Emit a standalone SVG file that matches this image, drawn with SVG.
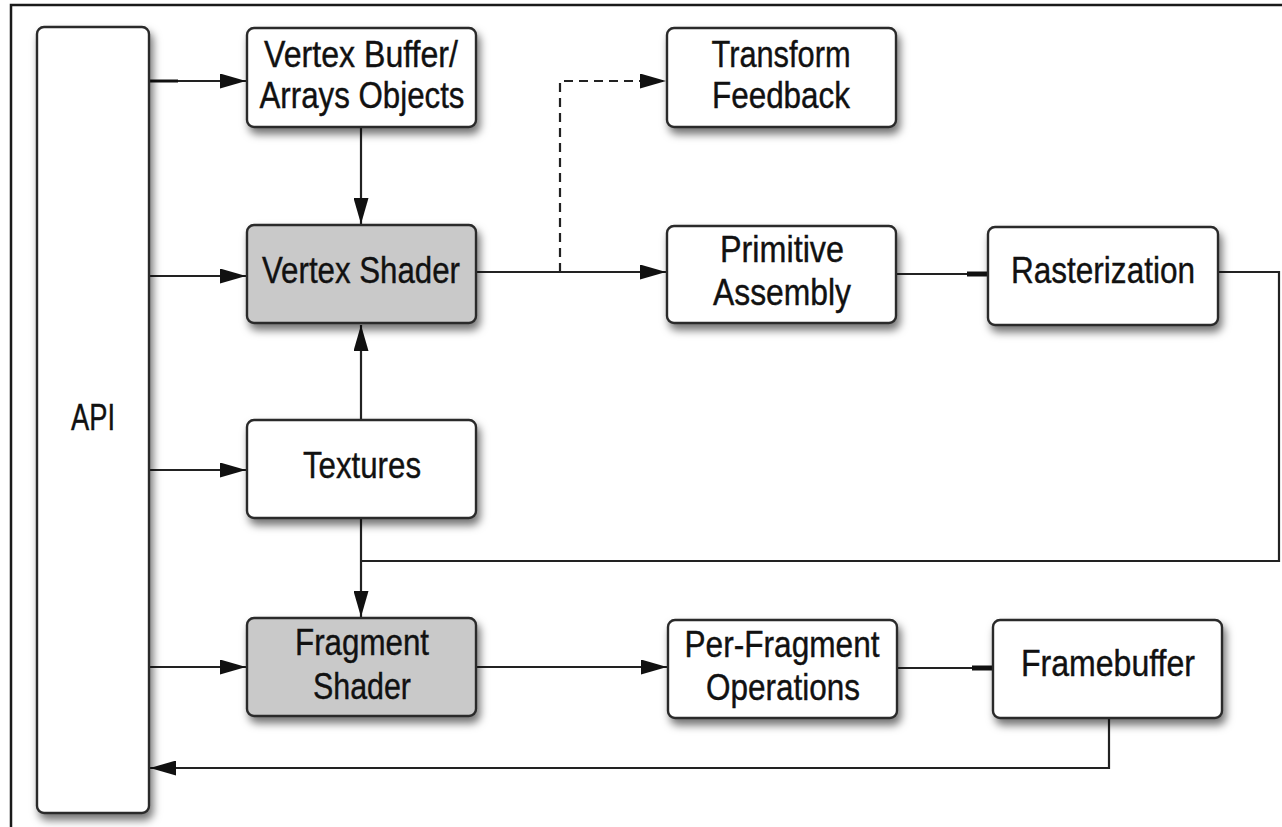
<svg xmlns="http://www.w3.org/2000/svg" width="1282" height="827" viewBox="0 0 1282 827">
  <style>
    .box { fill: #ffffff; stroke: #2a2a2a; stroke-width: 2.4; filter: url(#shadow); }
    .shader { fill: #c9c9c9; }
    .label { font-family: "Liberation Sans", Arial, sans-serif; font-size: 36px; fill: #111; text-anchor: middle; stroke: #111; stroke-width: 0.4; }
    .wire { fill: none; stroke: #222; stroke-width: 2.2; }
    .dash { stroke-dasharray: 9 6; }
    .stub { stroke: #111; stroke-width: 5; }
    .frame { fill: none; stroke: #1a1a1a; stroke-width: 2.5; }
  </style>
  <defs>
    <filter id="shadow" x="-20%" y="-20%" width="140%" height="150%">
      <feDropShadow dx="3" dy="6" stdDeviation="4" flood-color="#000" flood-opacity="0.55"/>
    </filter>
    <marker id="arrow" viewBox="0 0 26 15" refX="26" refY="7.5" markerWidth="26" markerHeight="15" markerUnits="userSpaceOnUse" orient="auto">
      <path d="M0,0 L26,7.5 L0,15 Z" fill="#111"/>
    </marker>
  </defs>

  <rect width="1282" height="827" fill="#ffffff"/>
  <!-- outer frame -->
  <path class="frame" d="M11,827 V5 H1282"/>

  <!-- connectors -->
  <g id="connectors">
    <!-- API feeds -->
    <line class="wire" x1="149" y1="81" x2="246" y2="81" marker-end="url(#arrow)"/>
    <line class="stub" x1="150" y1="81" x2="178" y2="81" style="stroke-width:3"/>
    <line class="wire" x1="149" y1="276" x2="246" y2="276" marker-end="url(#arrow)"/>
    <line class="wire" x1="149" y1="470" x2="246" y2="470" marker-end="url(#arrow)"/>
    <line class="wire" x1="149" y1="667" x2="246" y2="667" marker-end="url(#arrow)"/>
    <!-- vertex buffer to vertex shader -->
    <line class="wire" x1="361" y1="128" x2="361" y2="224" marker-end="url(#arrow)"/>
    <!-- textures up to vertex shader -->
    <line class="wire" x1="361" y1="420" x2="361" y2="325" marker-end="url(#arrow)"/>
    <!-- textures down to fragment shader -->
    <line class="wire" x1="361" y1="519" x2="361" y2="617" marker-end="url(#arrow)"/>
    <!-- vertex shader to primitive assembly -->
    <line class="wire" x1="476" y1="272" x2="666" y2="272" marker-end="url(#arrow)"/>
    <!-- transform feedback branch -->
    <path class="wire dash" d="M560,272 V81 H666" marker-end="url(#arrow)"/>
    <!-- primitive assembly to rasterization -->
    <line class="wire" x1="896" y1="274" x2="988" y2="274"/>
    <line class="stub" x1="967" y1="274" x2="988" y2="274"/>
    <!-- rasterization loop back to fragment shader -->
    <path class="wire" d="M1218,272 H1279 V561 H361"/>
    <!-- fragment shader to per-fragment operations -->
    <line class="wire" x1="476" y1="667" x2="667" y2="667" marker-end="url(#arrow)"/>
    <!-- per-fragment operations to framebuffer -->
    <line class="wire" x1="897" y1="668" x2="993" y2="668"/>
    <line class="stub" x1="972" y1="668" x2="993" y2="668"/>
    <!-- framebuffer back to API -->
    <path class="wire" d="M1109,718 V768 H150" marker-end="url(#arrow)"/>
  </g>

  <g id="api">
    <rect class="box" x="37" y="27" width="112" height="786" rx="7"/>
    <text class="label" x="93" y="430" textLength="44" lengthAdjust="spacingAndGlyphs">API</text>
  </g>

  <g id="vertex-buffer">
    <rect class="box" x="247" y="28" width="229" height="99" rx="7"/>
    <text class="label" x="361" y="67" textLength="194" lengthAdjust="spacingAndGlyphs">Vertex Buffer/</text>
    <text class="label" x="362" y="108" textLength="205" lengthAdjust="spacingAndGlyphs">Arrays Objects</text>
  </g>

  <g id="vertex-shader">
    <rect class="box shader" x="247" y="225" width="229" height="98" rx="7"/>
    <text class="label" x="361" y="283" textLength="198" lengthAdjust="spacingAndGlyphs">Vertex Shader</text>
  </g>

  <g id="textures">
    <rect class="box" x="247" y="420" width="229" height="98" rx="7"/>
    <text class="label" x="362" y="478" textLength="118" lengthAdjust="spacingAndGlyphs">Textures</text>
  </g>

  <g id="fragment-shader">
    <rect class="box shader" x="247" y="618" width="229" height="98" rx="7"/>
    <text class="label" x="362" y="655" textLength="134" lengthAdjust="spacingAndGlyphs">Fragment</text>
    <text class="label" x="362" y="699" textLength="98" lengthAdjust="spacingAndGlyphs">Shader</text>
  </g>

  <g id="transform-feedback">
    <rect class="box" x="667" y="28" width="229" height="99" rx="7"/>
    <text class="label" x="781" y="67" textLength="139" lengthAdjust="spacingAndGlyphs">Transform</text>
    <text class="label" x="781" y="108" textLength="138" lengthAdjust="spacingAndGlyphs">Feedback</text>
  </g>

  <g id="primitive-assembly">
    <rect class="box" x="667" y="226" width="229" height="97" rx="7"/>
    <text class="label" x="782" y="262" textLength="124" lengthAdjust="spacingAndGlyphs">Primitive</text>
    <text class="label" x="782" y="305" textLength="138" lengthAdjust="spacingAndGlyphs">Assembly</text>
  </g>

  <g id="rasterization">
    <rect class="box" x="988" y="227" width="230" height="98" rx="7"/>
    <text class="label" x="1103" y="283" textLength="184" lengthAdjust="spacingAndGlyphs">Rasterization</text>
  </g>

  <g id="per-fragment-operations">
    <rect class="box" x="668" y="620" width="229" height="98" rx="7"/>
    <text class="label" x="782" y="657" textLength="195" lengthAdjust="spacingAndGlyphs">Per-Fragment</text>
    <text class="label" x="783" y="700" textLength="154" lengthAdjust="spacingAndGlyphs">Operations</text>
  </g>

  <g id="framebuffer">
    <rect class="box" x="993" y="620" width="229" height="98" rx="7"/>
    <text class="label" x="1108" y="676" textLength="174" lengthAdjust="spacingAndGlyphs">Framebuffer</text>
  </g>
</svg>
